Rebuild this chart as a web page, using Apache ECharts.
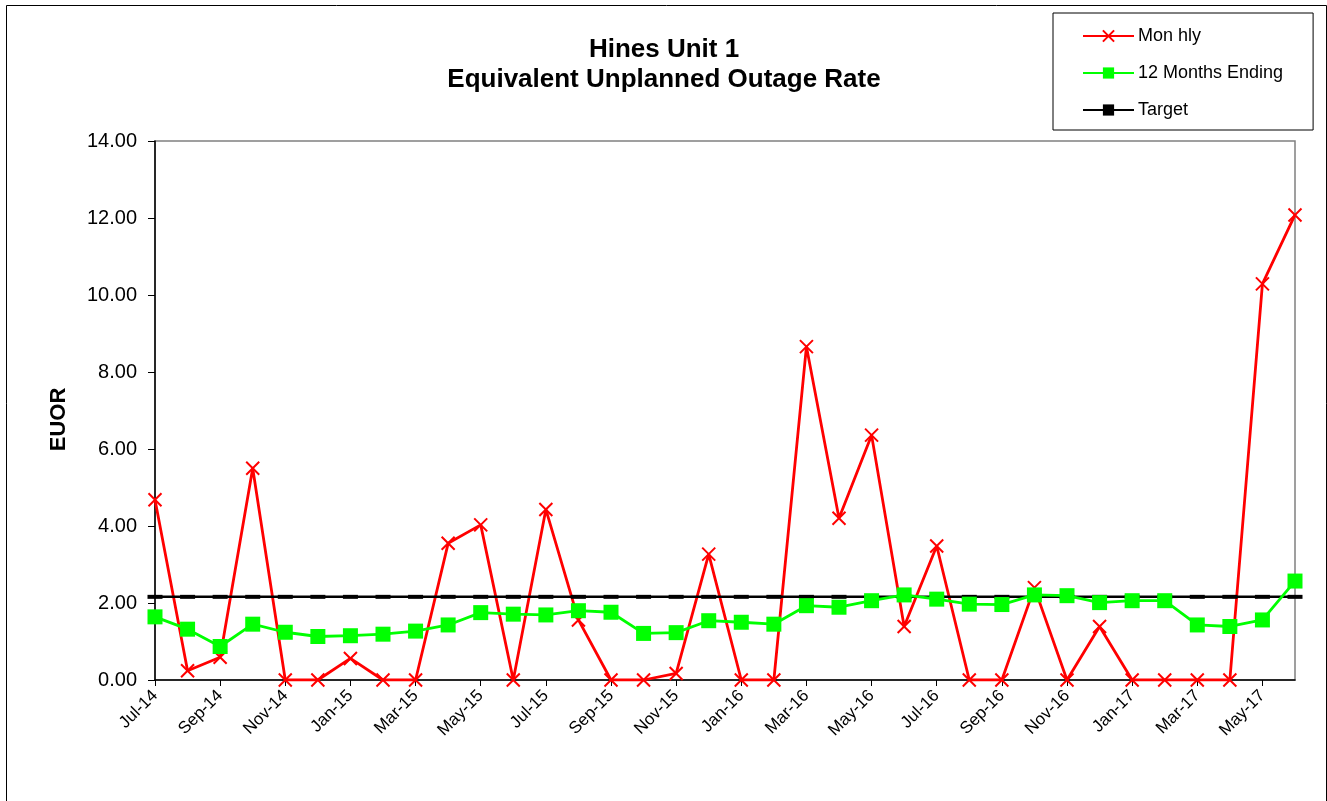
<!DOCTYPE html>
<html>
<head>
<meta charset="utf-8">
<script src="https://cdn.jsdelivr.net/npm/echarts@6/dist/echarts.min.js"></script>
<style>
html,body{margin:0;padding:0;background:#fff;}
#c{width:1327px;height:801px;}
</style>
</head>
<body>
<div id="c"></div>
<script>
const categories = ["Jul-14","Aug-14","Sep-14","Oct-14","Nov-14","Dec-14","Jan-15","Feb-15","Mar-15","Apr-15","May-15","Jun-15",
  "Jul-15","Aug-15","Sep-15","Oct-15","Nov-15","Dec-15","Jan-16","Feb-16","Mar-16","Apr-16","May-16","Jun-16",
  "Jul-16","Aug-16","Sep-16","Oct-16","Nov-16","Dec-16","Jan-17","Feb-17","Mar-17","Apr-17","May-17","Jun-17"];
const monthly = [4.68,0.24,0.59,5.50,0,0,0.56,0,0,3.55,4.03,0,
  4.43,1.56,0,0,0.17,3.27,0,0,8.66,4.20,6.36,1.39,
  3.48,0,0,2.40,0,1.39,0,0,0,0,10.29,12.08];
const twelveMonths = [1.64,1.32,0.87,1.45,1.24,1.13,1.15,1.19,1.27,1.43,1.75,1.71,
  1.69,1.80,1.76,1.21,1.23,1.54,1.50,1.45,1.93,1.89,2.06,2.21,
  2.10,1.97,1.96,2.21,2.19,2.01,2.06,2.06,1.43,1.39,1.56,2.57];
const targetValue = 2.16;
const target = categories.map(() => targetValue);
const titleLines = ["Hines Unit 1", "Equivalent Unplanned Outage Rate"];
const yAxisName = "EUOR";
const seriesNames = ["Mon hly", "12 Months Ending", "Target"];

const FONT = "'Liberation Sans', Arial, sans-serif";
const chart = echarts.init(document.getElementById('c'), null, {renderer:'canvas'});
chart.setOption({
  backgroundColor: '#fff',
  animation: false,
  graphic: [{
    type: 'rect', left: 4, top: 3, silent: true,
    shape: {x: 0, y: 0, width: 1320, height: 820},
    style: {fill: 'none', stroke: '#000', lineWidth: 1}
  }],
  title: {
    text: titleLines.join('\n'),
    left: 659, top: 30, textAlign: 'center',
    textStyle: {fontFamily: FONT, fontSize: 26, fontWeight: 'bold', color: '#000', lineHeight: 30}
  },
  legend: {
    orient: 'vertical',
    left: 1053, top: 13,
    padding: [14, 30, 11, 29],
    itemWidth: 51, itemHeight: 14, itemGap: 19,
    borderColor: '#000', borderWidth: 1,
    backgroundColor: '#fff',
    textStyle: {fontFamily: FONT, fontSize: 18, color: '#000', padding: [0,0,0,-1]},
    data: seriesNames
  },
  grid: {
    left: 155, right: 32, top: 141, bottom: 121,
    show: true, borderColor: '#808080', borderWidth: 1.5, backgroundColor: 'transparent'
  },
  xAxis: {
    type: 'category', data: categories, boundaryGap: false,
    axisLine: {lineStyle: {color: '#000', width: 1.5}},
    axisTick: {interval: 1, length: 6, lineStyle: {color: '#000'}},
    axisLabel: {interval: 1, rotate: 45, margin: 13, fontFamily: FONT, fontSize: 17, color: '#000'}
  },
  yAxis: {
    type: 'value', min: 0, max: 14, interval: 2,
    name: yAxisName, nameLocation: 'middle', nameRotate: 90, nameGap: 85,
    nameTextStyle: {fontFamily: FONT, fontSize: 22, fontWeight: 'bold', color: '#000', padding: [0, 18, 0, 0]},
    axisLine: {show: true, lineStyle: {color: '#000', width: 1.5}},
    axisTick: {show: true, length: 7, lineStyle: {color: '#000'}},
    splitLine: {show: false},
    axisLabel: {margin: 18, fontFamily: FONT, fontSize: 20, color: '#000', formatter: v => v.toFixed(2)}
  },
  series: [
    {
      name: seriesNames[0], type: 'line', data: monthly, z: 2,
      symbol: 'path://M0,0L10,10M10,0L0,10', symbolSize: 13,
      lineStyle: {color: '#ff0000', width: 2.8},
      itemStyle: {color: '#ff0000', borderColor: '#ff0000', borderWidth: 2}
    },
    {
      name: seriesNames[2], type: 'line', data: target, z: 3,
      symbol: 'rect', symbolSize: [15, 4],
      lineStyle: {color: '#000', width: 2.5},
      itemStyle: {color: '#000'}
    },
    {
      name: seriesNames[1], type: 'line', data: twelveMonths, z: 4,
      symbol: 'rect', symbolSize: 15,
      lineStyle: {color: '#00ff00', width: 2.8},
      itemStyle: {color: '#00ff00'}
    }
  ]
});
</script>
</body>
</html>
